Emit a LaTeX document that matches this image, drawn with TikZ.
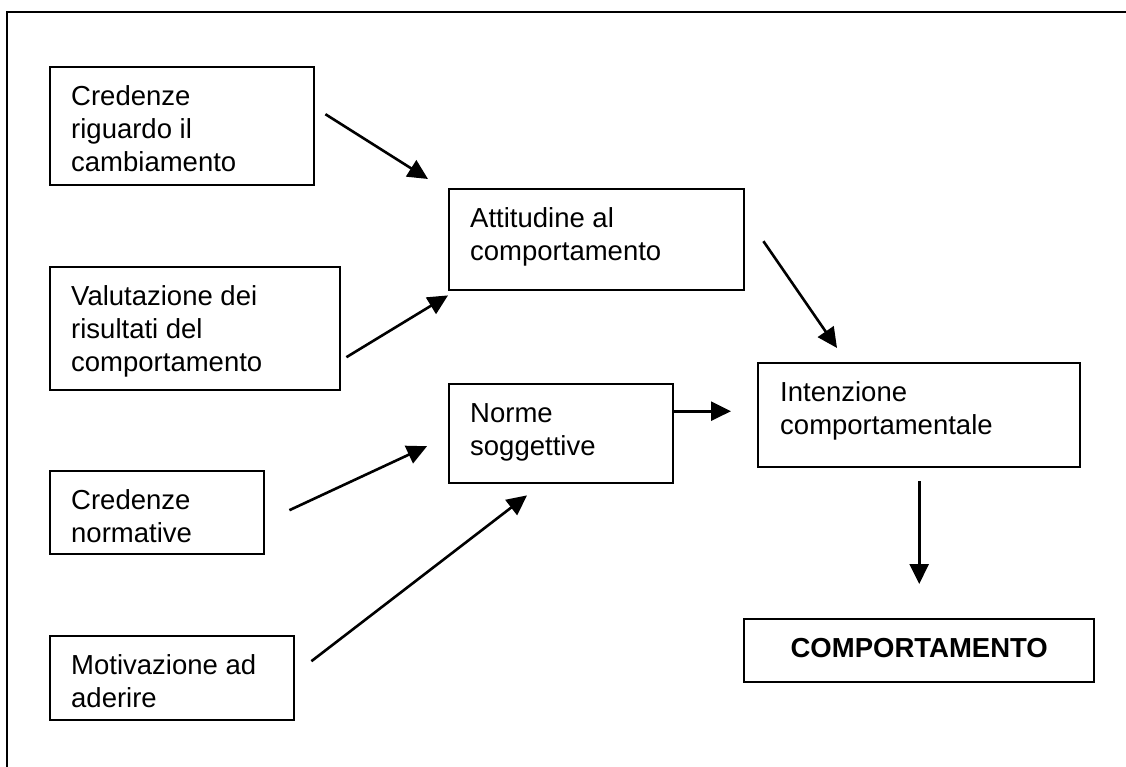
\documentclass[tikz,border=0pt]{standalone}
\usepackage{fontspec}
\setmainfont{Liberation Sans}
\usetikzlibrary{arrows.meta,calc}
\begin{document}
\begin{tikzpicture}[x=1pt,y=-1pt,
  box/.style={draw=black,line width=2.4pt,rectangle,inner sep=0pt,anchor=north west},
  txt/.style={anchor=north west,inner sep=0pt,align=left,font=\fontsize{27.5}{33}\selectfont},
  conn/.style={line width=2.6pt,-{Triangle[length=20pt,width=19pt]}},
  frame/.style={line width=2.8pt}]
\useasboundingbox (0,0) rectangle (1126,767);
% partial outer frame
\coordinate (ftr) at (1126,12);
\coordinate (ftl) at (7,12);
\coordinate (fbl) at (7,767);
\draw[frame] (ftr) -- (ftl) -- (fbl);
% boxes
\node[box,minimum width=264pt,minimum height=118pt] (cr) at (49,66) {};
\node[box,minimum width=290pt,minimum height=123pt] (val) at (49,266) {};
\node[box,minimum width=214pt,minimum height=83pt] (cn) at (49,470) {};
\node[box,minimum width=244pt,minimum height=84pt] (mot) at (49,635) {};
\node[box,minimum width=295pt,minimum height=101pt] (att) at (448,188) {};
\node[box,minimum width=224pt,minimum height=99pt] (nor) at (448,383) {};
\node[box,minimum width=322pt,minimum height=104pt] (int) at (757,362) {};
\node[box,minimum width=350pt,minimum height=63pt] (comp) at (743,618) {};
% texts
\node[txt] (crT) at ([shift={(22,19)}]cr.north west) {\rule{0pt}{20pt}Credenze\\riguardo il\\cambiamento};
\node[txt] (valT) at ([shift={(22,19)}]val.north west) {\rule{0pt}{20pt}Valutazione dei\\risultati del\\comportamento};
\node[txt] (cnT) at ([shift={(22,19)}]cn.north west) {\rule{0pt}{20pt}Credenze\\normative};
\node[txt] (motT) at ([shift={(22,19)}]mot.north west) {\rule{0pt}{20pt}Motivazione ad\\aderire};
\node[txt] (attT) at ([shift={(22,19)}]att.north west) {\rule{0pt}{20pt}Attitudine al\\comportamento};
\node[txt] (norT) at ([shift={(22,19)}]nor.north west) {\rule{0pt}{20pt}Norme\\soggettive};
\node[txt] (intT) at ([shift={(23,19)}]int.north west) {\rule{0pt}{20pt}Intenzione\\comportamentale};
\node[anchor=base,inner sep=0pt,font=\fontsize{27.5}{33}\selectfont\bfseries] (compT) at ([shift={(0,39)}]comp.north) {COMPORTAMENTO};
% connectors
\draw[conn] ([shift={(10,-12)}]cr.east) -- ([shift={(-20,-9)}]att.north west);
\draw[conn] ([shift={(5,28.5)}]val.east) -- ([shift={(0,4)}]att.south west);
\draw[conn] ([shift={(24,-2.5)}]cn.east) -- ([shift={(-21,12.5)}]nor.west);
\draw[conn] ([shift={(16,-17)}]mot.east) -- ([shift={(79,11)}]nor.south west);
\draw[conn] ([shift={(18,1.5)}]att.east) -- ([shift={(80,-14)}]int.north west);
\draw[conn] ([shift={(0,-22.5)}]nor.east) -- ([shift={(-26,-4)}]int.west);
\draw[conn] ([shift={(0,13)}]int.south) -- ([shift={(0,-34)}]comp.north);
\end{tikzpicture}
\end{document}
